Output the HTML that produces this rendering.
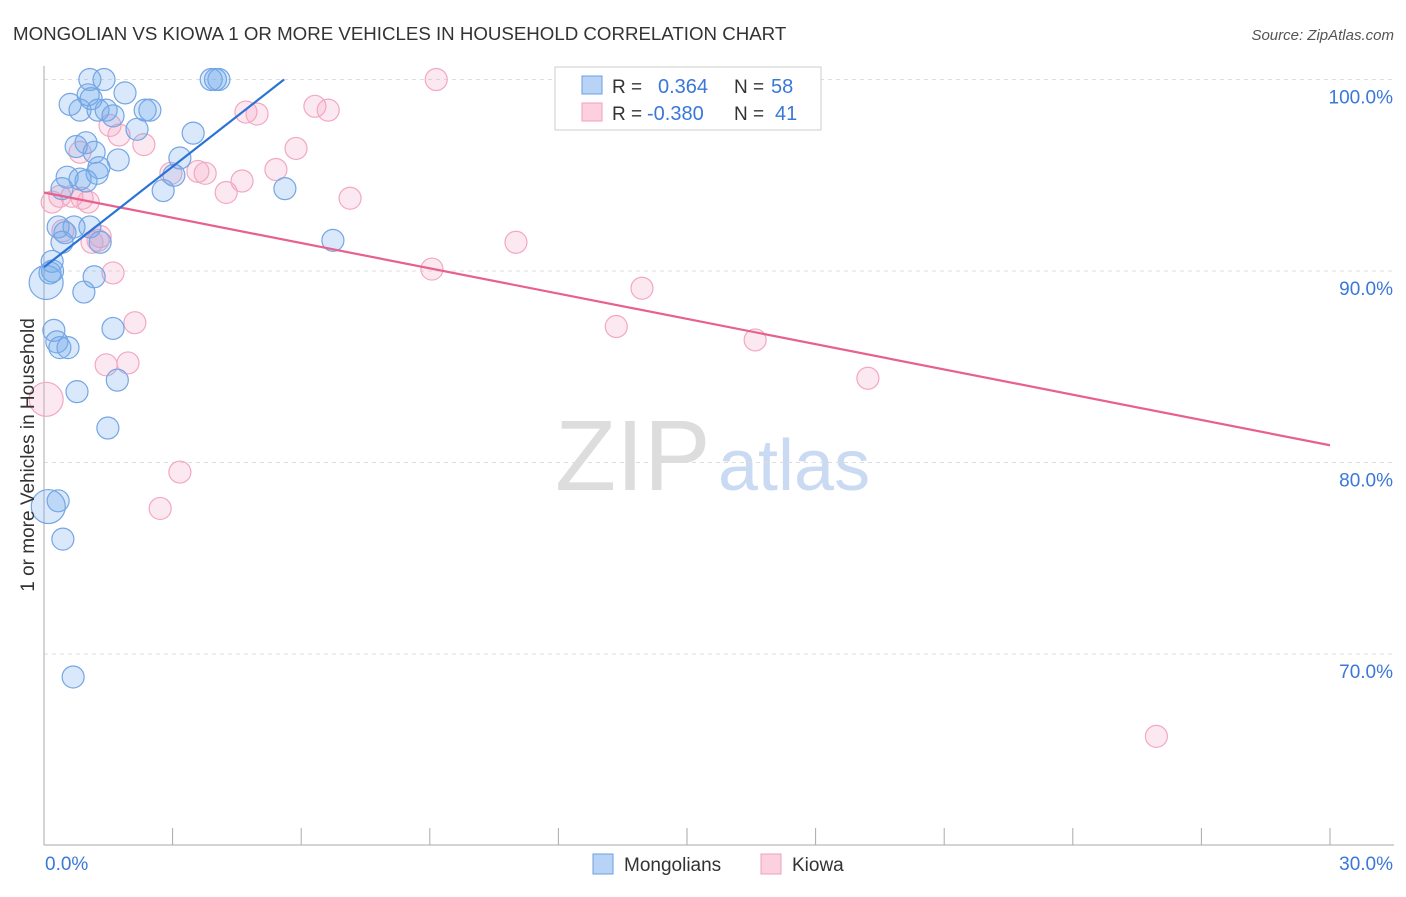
<!DOCTYPE html>
<html><head><meta charset="utf-8"><style>
body{margin:0;background:#fff;font-family:"Liberation Sans",sans-serif;}
svg text{font-family:"Liberation Sans",sans-serif;}
</style></head><body>
<svg id="chart" width="1406" height="892" xmlns="http://www.w3.org/2000/svg">
<text x="13" y="40" font-size="18.7" fill="#333">MONGOLIAN VS KIOWA 1 OR MORE VEHICLES IN HOUSEHOLD CORRELATION CHART</text>
<text x="1394" y="40" font-size="15" fill="#555" text-anchor="end" font-style="italic">Source: ZipAtlas.com</text>
<text x="555" y="490" font-size="100" fill="#ddd" font-family="Liberation Serif">ZIP</text>
<text x="718" y="490" font-size="72" fill="#c9daf2">atlas</text>
<g id="grid"></g>
<g id="marks"></g>
<g>
<rect x="555" y="67" width="266" height="63" fill="#fff" stroke="#ccc"/>
<rect x="582" y="76" width="20" height="18" fill="#b8d3f5" stroke="#6a9fe0"/>
<rect x="582" y="103" width="20" height="18" fill="#fcd0de" stroke="#f0a0b8"/>
<text x="612" y="93" font-size="19" fill="#333">R = </text><text x="658" y="93" font-size="20" fill="#3a78d8">0.364</text>
<text x="734" y="93" font-size="19" fill="#333">N = </text><text x="771" y="93" font-size="20" fill="#3a78d8">58</text>
<text x="612" y="120" font-size="19" fill="#333">R = </text><text x="647" y="120" font-size="20" fill="#3a78d8">-0.380</text>
<text x="734" y="120" font-size="19" fill="#333">N = </text><text x="775" y="120" font-size="20" fill="#3a78d8">41</text>
</g>
<g>
<rect x="593" y="854" width="20" height="20" fill="#b8d3f5" stroke="#6a9fe0"/>
<text x="624" y="871" font-size="19" fill="#333">Mongolians</text>
<rect x="761" y="854" width="20" height="20" fill="#fcd0de" stroke="#f0a0b8"/>
<text x="792" y="871" font-size="19" fill="#333">Kiowa</text>
</g>
<text transform="translate(34,455) rotate(-90)" font-size="19" fill="#333" text-anchor="middle">1 or more Vehicles in Household</text>
</svg>
<script>
const yTicks=[100,90,80,70];
const yTickLabels=["100.0%","90.0%","80.0%","70.0%"];
const xEndLabels=["0.0%","30.0%"];
// Mongolians (x %, y %, radius)
const blueX=[1.07,1.4,3.9,4.0,4.08,1.03,1.89,0.61,0.84,1.26,1.45,1.61,2.36,2.47,2.17,3.48,0.98,0.75,1.17,1.73,3.17,1.28,1.24,0.54,0.84,0.98,3.03,2.78,5.62,0.42,0.33,0.7,1.07,0.49,0.42,1.31,6.74,0.19,0.14,0.05,1.17,0.93,0.23,0.3,1.61,0.37,0.56,1.71,0.77,1.49,0.33,0.1,0.44,0.68,1.1,0.2];
const blueY=[100,100,100,100,100,99.2,99.3,98.7,98.4,98.4,98.4,98.1,98.4,98.4,97.4,97.2,96.7,96.5,96.2,95.8,95.9,95.4,95.1,94.9,94.8,94.7,95.0,94.2,94.3,94.3,92.3,92.3,92.3,92.0,91.5,91.5,91.6,90.5,89.9,89.4,89.7,88.9,86.9,86.3,87.0,86.0,86.0,84.3,83.7,81.8,78.0,77.7,76.0,68.8,99.0,90.0];
const blueR=[11,11,11,11,11,11,11,11,11,11,11,11,11,11,11,11,11,11,11,11,11,11,11,11,11,11,11,11,11,11,11,11,11,11,11,11,11,11,11,17,11,11,11,11,11,11,11,11,11,11,11,17,11,11,11,11];
// Kiowa
const pinkX=[9.15,4.71,4.97,6.32,6.63,1.54,1.75,2.33,0.84,5.88,2.96,3.76,3.59,4.62,5.41,4.25,7.14,0.19,0.37,0.65,0.89,1.03,1.26,1.12,11.01,9.05,1.61,13.95,13.35,2.12,1.45,1.96,16.59,19.22,0.05,3.17,2.71,25.95,0.44,1.31];
const pinkY=[100,98.3,98.2,98.6,98.4,97.6,97.1,96.6,96.2,96.4,95.1,95.1,95.2,94.7,95.3,94.1,93.8,93.6,93.9,93.9,93.8,93.6,91.6,91.5,91.5,90.1,89.9,89.1,87.1,87.3,85.1,85.2,86.4,84.4,83.3,79.5,77.6,65.7,92.1,91.8];
const pinkR=[11,11,11,11,11,11,11,11,11,11,11,11,11,11,11,11,11,11,11,11,11,11,11,11,11,11,11,11,11,11,11,11,11,11,17,11,11,11,11,11];
// trend lines: [x0,y0,x1,y1]
const blueTrend=[0,90.2,5.6,100];
const pinkTrend=[0,94.1,30,80.9];

const NS="http://www.w3.org/2000/svg";
const X0=44,X1=1330,Y100=79.5,PPU=19.15;
const sx=v=>X0+(v/30)*(X1-X0);
const sy=v=>Y100+(100-v)*PPU;
function mk(t,a,p){const e=document.createElementNS(NS,t);for(const k in a)e.setAttribute(k,a[k]);p.appendChild(e);return e;}
const grid=document.getElementById('grid'),marks=document.getElementById('marks');
yTicks.forEach((t,i)=>{
  const l=mk('line',{x1:X0,x2:1394,y1:sy(t),y2:sy(t),stroke:'#ddd','stroke-dasharray':'4,4'},grid);
  
  
  const tx=mk('text',{x:1393,y:sy(t)+24,'font-size':19,fill:'#3a78d8','text-anchor':'end'},grid);
  tx.textContent=yTickLabels[i];
  
  
});
const ax=mk('line',{x1:X0,x2:X0,y1:66,y2:845,stroke:'#aaa'},grid);


const bx=mk('line',{x1:X0,x2:1394,y1:845,y2:845,stroke:'#aaa'},grid);


for(let i=0;i<=10;i++){const xx=X0+i*(X1-X0)/10;const t=mk('line',{x1:xx,x2:xx,y1:828,y2:845,stroke:'#aaa'},grid);

}
[[xEndLabels[0],45,'start'],[xEndLabels[1],1393,'end']].forEach(([s,x,a])=>{const t=mk('text',{x:x,y:870,'font-size':19,fill:'#3a78d8','text-anchor':a},grid);t.textContent=s;

});
function pts(xs,ys,rs,fill,stroke,name){xs.forEach((x,i)=>{const c=mk('circle',{cx:sx(x),cy:sy(ys[i]),r:rs[i],fill:fill,stroke:stroke,'stroke-width':1.2},marks);

});}
pts(pinkX,pinkY,pinkR,'rgba(245,165,195,0.25)','#f2a8c0','kiowa-point');
pts(blueX,blueY,blueR,'rgba(115,170,235,0.27)','#74a6e4','mongolian-point');
function tl(a,col,name){const l=mk('line',{x1:sx(a[0]),y1:sy(a[1]),x2:sx(a[2]),y2:sy(a[3]),stroke:col,'stroke-width':2.2},marks);

}
tl(pinkTrend,'#e8608e','kiowa-trend-line');
tl(blueTrend,'#2a72d6','mongolian-trend-line');
</script>
</body></html>
